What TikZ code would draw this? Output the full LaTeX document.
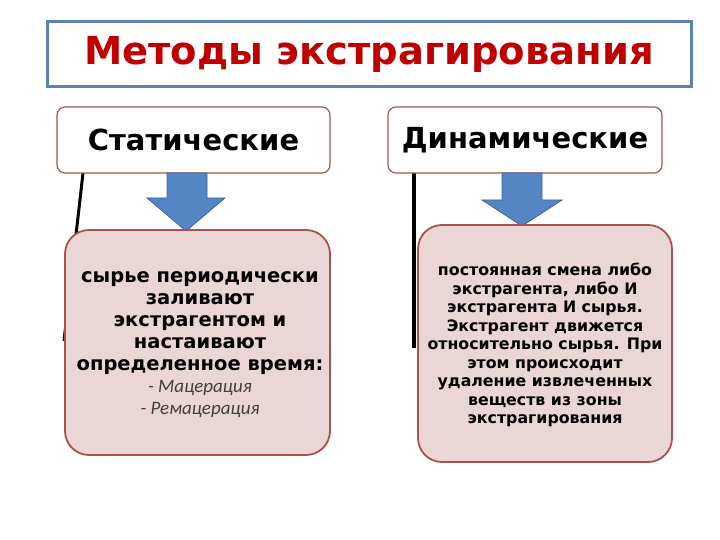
\documentclass[tikz,border=0pt]{standalone}
\usepackage{fontspec}
\setmainfont{Liberation Sans}
\newfontfamily\heavyfont{DejaVu Sans}
\newfontfamily\calibfont{Carlito}
\definecolor{titlered}{HTML}{C00000}
\definecolor{frameblue}{HTML}{5A82B4}
\definecolor{boxline}{HTML}{A8524F}
\definecolor{boxfill}{HTML}{EBD6D6}
\definecolor{arrowblue}{HTML}{5486C6}
\definecolor{arrowline}{HTML}{3D6496}
\tikzset{
  headbox/.style={draw=boxline, line width=1.2pt, rounded corners=8pt, fill=white,
    minimum width=273pt, minimum height=66pt, inner sep=0pt,
    font=\heavyfont\bfseries\fontsize{29}{31}\selectfont},
  bodybox/.style={draw=boxline, line width=1.8pt, rounded corners=24pt, fill=boxfill,
    inner sep=0pt},
  blockarrow/.style={fill=arrowblue, draw=arrowline, line width=0.8pt},
  link/.style={line width=3.5pt, black}
}
\newcommand\itemtext[1]{{\calibfont\mdseries\itshape\fontsize{19}{22}\selectfont\color{black!75}#1}}
\begin{document}
\begin{tikzpicture}[x=1pt,y=-1pt]
\useasboundingbox (0,0) rectangle (720,540);

% title
\node[draw=frameblue, line width=3pt, fill=white, minimum width=644pt, minimum height=65pt,
  font=\heavyfont\bfseries\fontsize{38.5}{40}\selectfont, text=titlered]
  (title) at (369,54.5) {Методы экстрагирования};

% connectors behind the boxes
\coordinate (lsend) at (64,341);
\coordinate (rsend) at (414,348);
\draw[link, line width=3pt] (83,173) -- (lsend);
\draw[link] (414,173) -- (rsend);

% column heads
\node[headbox] (stat) at (193.5,140) {Статические};
\node[headbox, minimum width=274pt] (dyn) at (525,140) {Динамические};

% block arrows
\draw[blockarrow] (167,173) -- (207,173) -- (207,198) -- (225,198) -- (186,231)
  -- (147,198) -- (167,198) -- cycle;
\draw[blockarrow] (502,173) -- (542,173) -- (542,200) -- (562,200) -- (522,226)
  -- (482,200) -- (502,200) -- cycle;

% bodies
\node[bodybox, minimum width=265pt, minimum height=225pt] (statbody) at (197.5,342.5) {};
\node[bodybox, minimum width=254pt, minimum height=237pt] (dynbody) at (545,343.5) {};

\node[align=center, inner sep=0pt, font=\heavyfont\bfseries\fontsize{19.5}{22}\selectfont]
  (stattext) at (200,345)
  {сырье периодически\\ заливают\\ экстрагентом и\\ настаивают\\ определенное время:\\
   \itemtext{- Мацерация}\\ \itemtext{- Ремацерация}};

\node[align=center, inner sep=0pt, font=\heavyfont\bfseries\fontsize{15.8}{18.5}\selectfont]
  (dyntext) at (545,345)
  {постоянная смена либо\\ экстрагента, либо И\\ экстрагента И сырья.\\
   Экстрагент движется\\ относительно сырья. При\\ этом происходит\\
   удаление извлеченных\\ веществ из зоны\\ экстрагирования};
\end{tikzpicture}
\end{document}
